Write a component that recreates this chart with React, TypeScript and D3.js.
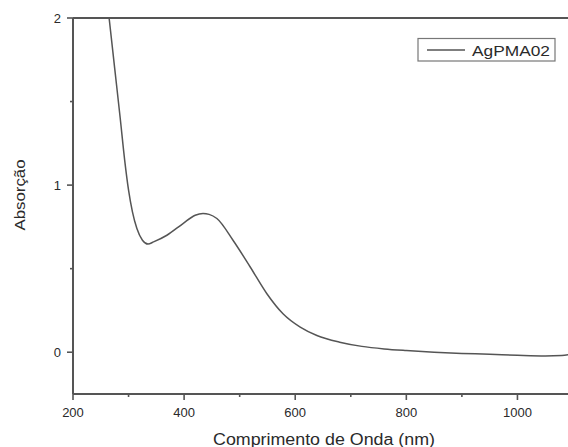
import React from "react";
import * as d3 from "d3";

const wavelengths = [258, 265, 275, 285, 293, 300, 307, 315, 325, 335, 345, 369, 398, 420, 434, 445, 459, 488, 519, 549, 578, 609, 639, 680, 720, 760, 800, 850, 900, 950, 1000, 1050, 1080, 1100];
const absorbance = [2.2, 2.0, 1.7, 1.4, 1.15, 0.97, 0.84, 0.74, 0.67, 0.647, 0.66, 0.70, 0.77, 0.82, 0.83, 0.825, 0.80, 0.67, 0.51, 0.35, 0.23, 0.15, 0.10, 0.06, 0.035, 0.02, 0.01, 0.0, -0.007, -0.012, -0.018, -0.022, -0.02, -0.01];
const xMajor = [200, 400, 600, 800, 1000];
const xMinor = [300, 500, 700, 900, 1100];
const yMajor = [0, 1, 2];
const yMinor = [0.5, 1.5];
const seriesName = "AgPMA02";

const App = () => {
    const width = 568;
    const height = 447;
    const left = 73, right = 573, top = 18, bottom = 394;

    const x = d3.scaleLinear().domain([200, 1100]).range([left, right]);
    const y = d3.scaleLinear().domain([-0.25, 2]).range([bottom, top]);

    const points = wavelengths.map((w, i) => [w, absorbance[i]] as [number, number]);
    const line = d3.line<[number, number]>()
        .x(d => x(d[0]))
        .y(d => y(d[1]))
        .curve(d3.curveMonotoneX);

    const axisColor = "#555";
    const textColor = "#2a2a2a";
    const font = "Arial, 'Liberation Sans', sans-serif";

    return (
        <svg width={width} height={height} style={{position: "absolute", left: 0, top: 0, background: "#fff"}}>
            <defs>
                <clipPath id="plot">
                    <rect x={left} y={top} width={right - left} height={bottom - top}/>
                </clipPath>
            </defs>
            <path d={line(points) || ""} fill="none" stroke="#555" strokeWidth={1.5} clipPath="url(#plot)"/>

            {/* frame */}
            <line x1={left} x2={width} y1={top} y2={top} stroke={axisColor} strokeWidth={2}/>
            <line x1={left} x2={width} y1={bottom} y2={bottom} stroke={axisColor} strokeWidth={2}/>
            <line x1={left} x2={left} y1={top} y2={bottom} stroke={axisColor} strokeWidth={2}/>

            {xMajor.map(t => (
                <g key={"xm" + t}>
                    <line x1={x(t)} x2={x(t)} y1={bottom} y2={bottom + 6} stroke={axisColor} strokeWidth={1.6}/>
                    <text x={x(t)} y={417} textAnchor="middle" fontSize={13} fill={textColor} fontFamily={font}>{t}</text>
                </g>
            ))}
            {xMinor.map(t => (
                <line key={"xn" + t} x1={x(t)} x2={x(t)} y1={bottom} y2={bottom + 3} stroke={axisColor} strokeWidth={1.6}/>
            ))}
            {yMajor.map(t => (
                <g key={"ym" + t}>
                    <line x1={left - 6} x2={left} y1={y(t)} y2={y(t)} stroke={axisColor} strokeWidth={1.6}/>
                    <text x={left - 12} y={y(t) + 4.5} textAnchor="end" fontSize={13} fill={textColor} fontFamily={font}>{t}</text>
                </g>
            ))}
            {yMinor.map(t => (
                <line key={"yn" + t} x1={left - 3} x2={left} y1={y(t)} y2={y(t)} stroke={axisColor} strokeWidth={1.6}/>
            ))}

            <text x={324} y={445} textAnchor="middle" fontSize={16} fill={textColor} fontFamily={font}
                  textLength={222} lengthAdjust="spacingAndGlyphs">Comprimento de Onda (nm)</text>
            <text transform={`translate(25,195) rotate(-90)`} textAnchor="middle" fontSize={14} fill={textColor}
                  fontFamily={font} textLength={71} lengthAdjust="spacingAndGlyphs">Absorção</text>

            {/* legend */}
            <rect x={418} y={38.5} width={137} height={22.5} fill="#fff" stroke="#777" strokeWidth={1.2}/>
            <line x1={427} x2={465} y1={50} y2={50} stroke="#555" strokeWidth={1.5}/>
            <text x={472} y={55.5} fontSize={15} fill={textColor} fontFamily={font}
                  textLength={78} lengthAdjust="spacingAndGlyphs">{seriesName}</text>
        </svg>
    );
};

export default App;
